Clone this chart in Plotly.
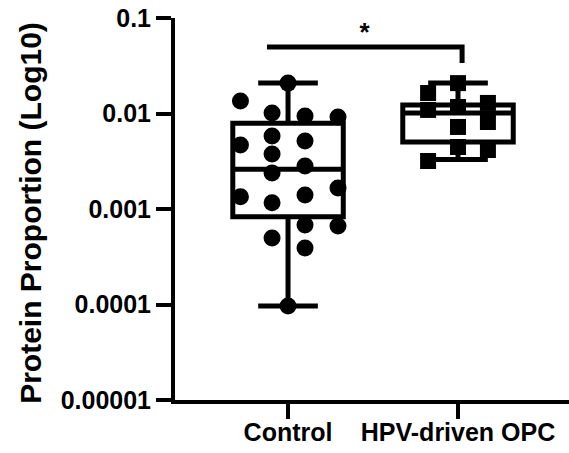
import plotly.graph_objects as go

# ---- data ----
categories = ["Control", "HPV-driven OPC"]

control_values = [0.0208, 0.0135, 0.0101, 0.00942, 0.00918, 0.00581, 0.00468, 0.00515,
                  0.00377, 0.00282, 0.00238, 0.00166, 0.00134, 0.00140, 0.00116,
                  0.000679, 0.000664, 0.000497, 0.000391, 0.0000964]
control_jitter = [0.0, -0.28, -0.094, 0.1, 0.294, -0.094, -0.28, 0.1,
                  -0.094, 0.1, -0.094, 0.294, -0.28, 0.1, -0.094,
                  0.1, 0.294, -0.094, 0.1, 0.0]

hpv_values = [0.0208, 0.0164, 0.0109, 0.0117, 0.00723, 0.00446, 0.0129, 0.00815, 0.00415, 0.00318]
hpv_jitter = [0.0, -0.176, -0.176, 0.0, 0.0, 0.0, 0.176, 0.176, 0.176, -0.176]

# box statistics (min, q1, median, q3, max)
box_lower = [0.0000964, 0.0033]
box_q1 = [0.00083, 0.00504]
box_median = [0.0026, 0.0101]
box_q3 = [0.0079, 0.0123]
box_upper = [0.0208, 0.0208]

y_tickvals = [0.00001, 0.0001, 0.001, 0.01, 0.1]
y_ticktext = ["0.00001", "0.0001", "0.001", "0.01", "0.1"]

# significance bracket
bracket_x = [-0.124, 1.024, 1.024]
bracket_y = [0.0497, 0.0497, 0.0338]
sig_label = "*"

FONT = "Liberation Sans, Arial, sans-serif"

fig = go.Figure()

for i in range(2):
    fig.add_trace(go.Box(
        x=[i], q1=[box_q1[i]], median=[box_median[i]], q3=[box_q3[i]],
        lowerfence=[box_lower[i]], upperfence=[box_upper[i]],
        width=0.65, whiskerwidth=0.54, boxpoints=False,
        line=dict(color="black", width=5), fillcolor="rgba(0,0,0,0)",
        showlegend=False, hoverinfo="skip",
    ))

fig.add_trace(go.Scatter(
    x=[0 + j for j in control_jitter], y=control_values, mode="markers",
    marker=dict(symbol="circle", size=17, color="black"), showlegend=False,
))
fig.add_trace(go.Scatter(
    x=[1 + j for j in hpv_jitter], y=hpv_values, mode="markers",
    marker=dict(symbol="square", size=16, color="black"), showlegend=False,
))

fig.add_trace(go.Scatter(
    x=bracket_x, y=bracket_y, mode="lines",
    line=dict(color="black", width=5), showlegend=False, hoverinfo="skip",
))
fig.add_trace(go.Scatter(
    x=[(bracket_x[0] + bracket_x[1]) / 2], y=[bracket_y[0]], mode="text",
    text=[sig_label], textposition="top center",
    textfont=dict(family=FONT, size=26, color="black", weight="bold"),
    showlegend=False, hoverinfo="skip",
))

fig.update_layout(
    width=569, height=453,
    margin=dict(l=175, r=0, t=18, b=53),
    paper_bgcolor="white", plot_bgcolor="white",
    font=dict(family=FONT, color="black"),
    xaxis=dict(
        range=[-0.665, 1.653], tickvals=[0, 1], ticktext=categories,
        showline=True, linecolor="black", linewidth=4,
        ticks="outside", ticklen=15, tickwidth=4, tickcolor="black",
        showgrid=False, zeroline=False, ticklabelstandoff=-8,
        tickfont=dict(family=FONT, size=25, color="black", weight="bold"),
    ),
    yaxis=dict(
        type="log", range=[-5, -1], tickvals=y_tickvals, ticktext=y_ticktext,
        showline=True, linecolor="black", linewidth=4,
        ticks="outside", ticklen=15, tickwidth=4, tickcolor="black",
        showgrid=False, zeroline=False,
        tickfont=dict(family=FONT, size=25, color="black", weight="bold"),
    ),
    annotations=[dict(
        text="Protein Proportion (Log10)", textangle=-90,
        xref="paper", yref="paper", x=-(175 - 31) / 394, y=0.49,
        xanchor="center", yanchor="middle", showarrow=False,
        font=dict(family=FONT, size=30, color="black", weight="bold"),
    )],
)

fig.write_html(
    "out.html",
    config={"displayModeBar": False},
    post_script="document.body.style.margin='0';document.body.style.overflow='hidden';",
)
